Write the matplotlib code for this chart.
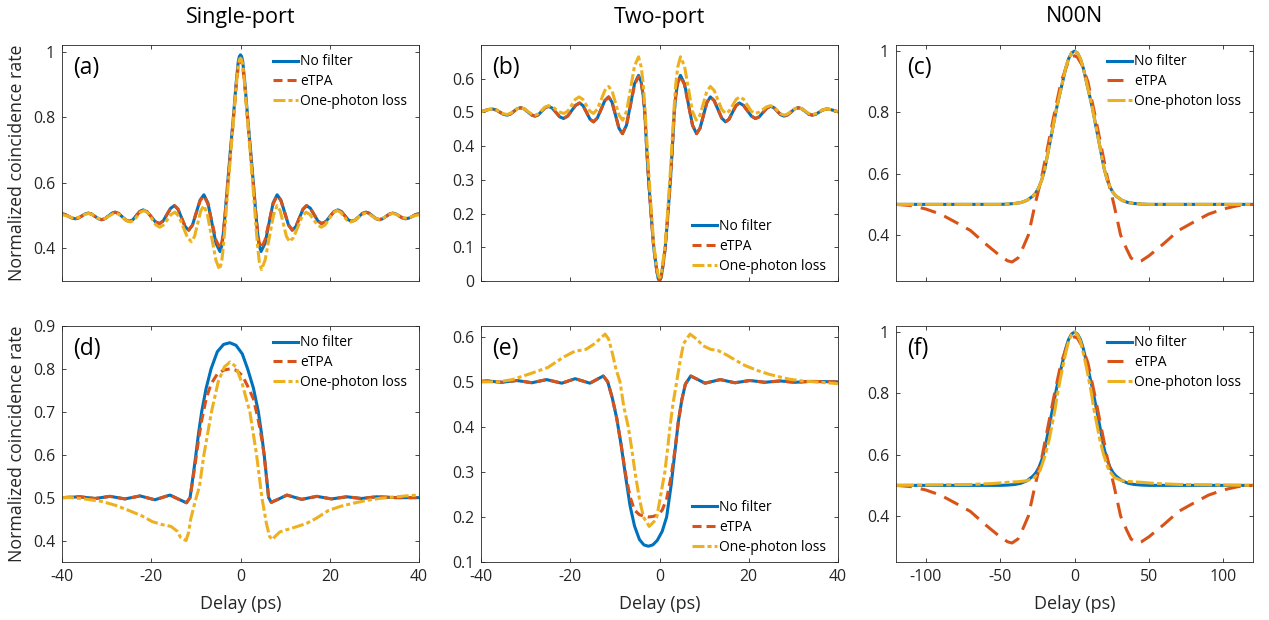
import matplotlib
matplotlib.use("Agg")
import matplotlib.pyplot as plt

plt.rcParams['font.family'] = ['Open Sans', 'DejaVu Sans']
plt.rcParams['lines.scale_dashes'] = False

BLUE = '#0072BD'
RED = '#D95319'
YELLOW = '#EDB120'
INK = '#262626'

labels = ['No filter', 'eTPA', 'One-photon loss']
col_titles = ['Single-port', 'Two-port', 'N00N']

# ---- (a) single-port, 2 ps filter
a_blue_x = [-40, -39.3, -38.55, -37.78, -37.0, -36.28, -35.55, -34.83, -34.1, -33.35, -32.6, -31.85, -31.1, -30.35,
            -29.6, -28.85, -28.1, -27.3, -26.5, -25.7, -24.9, -24.13, -23.35, -22.58, -21.8, -20.9, -20.0, -19.1,
            -18.2, -17.35, -16.5, -15.65, -14.8, -14.0, -13.2, -12.4, -11.6, -10.75, -9.9, -9.05, -8.2, -7.3, -6.4,
            -5.5, -4.6, -4.15, -3.8, -3.47, -2.87, -2.25, -1.6, -1.0, -0.5, -0.25, 0, 0.25, 0.5, 1.0, 1.6, 2.25,
            2.87, 3.47, 3.8, 4.15, 4.6, 5.5, 6.4, 7.3, 8.2, 9.05, 9.9, 10.75, 11.6, 12.4, 13.2, 14.0, 14.8, 15.65,
            16.5, 17.35, 18.2, 19.1, 20.0, 20.9, 21.8, 22.58, 23.35, 24.13, 24.9, 25.7, 26.5, 27.3, 28.1, 28.85,
            29.6, 30.35, 31.1, 31.85, 32.6, 33.35, 34.1, 34.83, 35.55, 36.28, 37.0, 37.78, 38.55, 39.3, 40]
a_blue_y = [.505, .503, .4975, .492, .49, .4925, .4985, .5045, .507, .504, .497, .49, .487, .4904,
            .4985, .5066, .51, .506, .496, .486, .482, .487, .4995, .512, .517, .511, .496, .481,
            .475, .483, .5025, .522, .53, .519, .4925, .466, .455, .471, .509, .547, .563, .538, .4765,
            .415, .39, .41, .452, .5, .6, .7, .8, .9, .97, .985, .99, .985, .97, .9, .8, .7,
            .6, .5, .452, .41, .39, .415, .4765, .538, .563, .547, .509, .471, .455, .466, .4925, .519, .53, .522,
            .5025, .483, .475, .481, .496, .511, .517, .512, .4995, .487, .482, .486, .496, .506, .51, .5066,
            .4985, .4904, .487, .49, .497, .504, .507, .5045, .4985, .4925, .49, .492, .4975, .503, .505]
a_red_x = a_blue_x
a_red_y = [.505, .503, .4975, .492, .49, .4925, .4985, .5045, .507, .504, .497, .49, .487, .4904,
           .4985, .5066, .51, .506, .496, .486, .482, .487, .4995, .512, .517, .511, .496, .481,
           .475, .483, .5025, .522, .53, .519, .4925, .466, .455, .471, .509, .545, .56, .535, .48,
           .425, .40, .42, .455, .5, .595, .69, .79, .89, .955, .97, .975, .97, .955, .89, .79, .69,
           .595, .5, .455, .42, .40, .425, .48, .535, .56, .545, .509, .471, .455, .466, .4925, .519, .53, .522,
           .5025, .483, .475, .481, .496, .511, .517, .512, .4995, .487, .482, .486, .496, .506, .51, .5066,
           .4985, .4904, .487, .49, .497, .504, .507, .5045, .4985, .4925, .49, .492, .4975, .503, .505]
a_yel_x = [-40, -39.3, -38.5, -37.8, -37.0, -36.25, -35.5, -34.75, -34.0, -33.3, -32.55, -31.8, -31.1, -30.3,
           -29.55, -28.8, -28.0, -27.2, -26.35, -25.5, -24.7, -23.9, -23.15, -22.4, -21.6, -20.7, -19.85, -19.0,
           -18.1, -17.25, -16.4, -15.55, -14.7, -13.8, -12.85, -11.9, -11.0, -10.3, -9.6, -8.9, -8.2, -7.4, -6.45,
           -5.5, -4.7, -4.2, -3.85, -3.5, -2.9, -2.25, -1.6, -1.0, -0.5, -0.25, 0, 0.25, 0.5, 1.0, 1.6, 2.25,
           2.9, 3.5, 3.85, 4.2, 4.7, 5.5, 6.45, 7.4, 8.2, 8.9, 9.6, 10.3, 11.0, 11.9, 12.85, 13.8, 14.7, 15.55,
           16.4, 17.25, 18.1, 19.0, 19.85, 20.7, 21.6, 22.4, 23.15, 23.9, 24.7, 25.5, 26.35, 27.2, 28.0, 28.8,
           29.55, 30.3, 31.1, 31.8, 32.55, 33.3, 34.0, 34.75, 35.5, 36.25, 37.0, 37.8, 38.5, 39.3, 40]
a_yel_y = [.502, .5, .497, .493, .492, .494, .499, .504, .506, .503, .497, .4906, .488, .491,
           .4975, .504, .507, .503, .4935, .484, .48, .485, .4975, .51, .515, .5075, .4895, .4715,
           .464, .471, .487, .503, .51, .497, .465, .433, .42, .436, .475, .514, .53, .5015, .4325,
           .363, .335, .36, .405, .46, .57, .68, .79, .89, .96, .975, .98, .975, .96, .89, .79, .68,
           .57, .46, .405, .36, .335, .363, .4325, .5015, .53, .514, .475, .436, .42, .433, .465, .497, .51, .503,
           .487, .471, .464, .4715, .4895, .5075, .515, .51, .4975, .485, .48, .484, .4935, .503, .507, .504,
           .4975, .491, .488, .4906, .497, .503, .506, .504, .499, .494, .492, .493, .497, .5, .502]

# ---- (b) two-port, 2 ps filter
b_blue_x = [-40, -39.0, -38.2, -37.4, -36.6, -35.8, -35.0, -34.2, -33.43, -32.65, -31.88, -31.1, -30.3, -29.5,
            -28.7, -27.9, -27.15, -26.4, -25.65, -24.9, -24.05, -23.2, -22.35, -21.5, -20.6, -19.7, -18.8, -17.9,
            -17.13, -16.35, -15.58, -14.8, -13.95, -13.1, -12.25, -11.4, -10.63, -9.85, -9.08, -8.3, -7.4, -6.5,
            -5.6, -4.7, -4.1, -3.65, -3.3, -2.9, -2.45, -1.9, -1.3, -0.6, -0.3, 0, 0.3, 0.6, 1.3, 1.9, 2.45, 2.9,
            3.3, 3.65, 4.1, 4.7, 5.6, 6.5, 7.4, 8.3, 9.08, 9.85, 10.63, 11.4, 12.25, 13.1, 13.95, 14.8, 15.58,
            16.35, 17.13, 17.9, 18.8, 19.7, 20.6, 21.5, 22.35, 23.2, 24.05, 24.9, 25.65, 26.4, 27.15, 27.9, 28.7,
            29.5, 30.3, 31.1, 31.88, 32.65, 33.43, 34.2, 35.0, 35.8, 36.6, 37.4, 38.2, 39.0, 40]
b_blue_y = [.502, .506, .509, .51, .5074, .501, .4946, .492, .495, .503, .511, .514, .5104, .5015,
            .4927, .489, .493, .5035, .514, .518, .513, .5, .487, .482, .489, .505, .521, .528,
            .52, .5, .48, .472, .483, .509, .535, .546, .53, .4915, .453, .437, .462, .5235,
            .585, .61, .59, .55, .5, .4, .3, .2, .1, .03, .008, 0, .008, .03, .1, .2, .3, .4,
            .5, .55, .59, .61, .585, .5235, .462, .437, .453, .4915, .53, .546, .535, .509, .483, .472, .48,
            .5, .52, .528, .521, .505, .489, .482, .487, .5, .513, .518, .514, .5035, .493, .489, .4927,
            .5015, .5104, .514, .511, .503, .495, .492, .4946, .501, .5074, .51, .509, .506, .502]
b_red_x = b_blue_x
b_red_y = [.502, .506, .509, .51, .5074, .501, .4946, .492, .495, .503, .511, .514, .5104, .5015,
           .4927, .489, .493, .5035, .514, .518, .513, .5, .487, .482, .489, .505, .521, .528,
           .52, .5, .48, .472, .483, .509, .535, .546, .53, .4915, .453, .437, .462, .522,
           .582, .607, .588, .55, .5, .4, .3, .2, .1, .028, .009, .003, .009, .028, .1, .2, .3, .4,
           .5, .55, .588, .607, .582, .522, .462, .437, .453, .4915, .53, .546, .535, .509, .483, .472, .48,
           .5, .52, .528, .521, .505, .489, .482, .487, .5, .513, .518, .514, .5035, .493, .489, .4927,
           .5015, .5104, .514, .511, .503, .495, .492, .4946, .501, .5074, .51, .509, .506, .502]
b_yel_x = [-40, -39.0, -38.2, -37.4, -36.6, -35.8, -35.0, -34.2, -33.43, -32.65, -31.88, -31.1, -30.3, -29.5,
           -28.7, -27.9, -27.15, -26.4, -25.65, -24.9, -24.0, -23.15, -22.28, -21.4, -20.55, -19.7, -18.85, -18.0,
           -17.2, -16.4, -15.6, -14.8, -13.95, -13.1, -12.25, -11.4, -10.6, -9.83, -9.05, -8.25, -7.36, -6.48,
           -5.6, -4.7, -4.1, -3.65, -3.3, -2.9, -2.45, -1.9, -1.3, -0.6, -0.3, 0, 0.3, 0.6, 1.3, 1.9, 2.45, 2.9,
           3.3, 3.65, 4.1, 4.7, 5.6, 6.48, 7.36, 8.25, 9.05, 9.83, 10.6, 11.4, 12.25, 13.1, 13.95, 14.8, 15.6,
           16.4, 17.2, 18.0, 18.85, 19.7, 20.55, 21.4, 22.28, 23.15, 24.0, 24.9, 25.65, 26.4, 27.15, 27.9, 28.7,
           29.5, 30.3, 31.1, 31.88, 32.65, 33.43, 34.2, 35.0, 35.8, 36.6, 37.4, 38.2, 39.0, 40]
b_yel_y = [.502, .506, .509, .51, .5077, .502, .4963, .494, .497, .504, .511, .514, .5108, .503,
           .4952, .492, .496, .506, .516, .52, .5166, .5085, .5004, .497, .504, .5215, .539, .546,
           .539, .5215, .504, .497, .509, .537, .565, .577, .5624, .527, .4916, .477, .504, .571,
           .6375, .665, .635, .585, .52, .43, .33, .22, .11, .04, .017, .01, .017, .04, .11, .22, .33, .43,
           .52, .585, .635, .665, .6375, .571, .504, .477, .4916, .527, .5624, .577, .565, .537, .509, .497, .504,
           .5215, .539, .546, .539, .5215, .504, .497, .5004, .5085, .5166, .52, .516, .506, .496, .492, .4952,
           .503, .5108, .514, .511, .504, .497, .494, .4963, .502, .5077, .51, .509, .506, .502]

# ---- (c) N00N, 2 ps filter
c_blue_x = [-120, -60, -50, -45, -40, -36, -32, -28, -26, -24, -22, -20, -18, -16, -14, -12, -10, -8, -6, -4, -2, 0,
            2, 4, 6, 8, 10, 12, 14, 16, 18, 20, 22, 24, 26, 28, 32, 36, 40, 45, 50, 60, 120]
c_blue_y = [.5, .5, .5, .501, .503, .506, .513, .527, .538, .555, .58, .615, .665, .715, .765, .815, .858, .9, .943,
            .975, .994, 1.0, .994, .975, .943, .9, .858, .815, .765, .715, .665, .615, .58, .555, .538, .527, .513,
            .506, .503, .501, .5, .5, .5]
c_yel_x = c_blue_x
c_yel_y = [.5, .5, .5, .501, .503, .506, .513, .527, .538, .555, .58, .615, .665, .715, .765, .815, .858, .9, .943,
           .975, .994, 1.0, .994, .975, .943, .9, .858, .815, .765, .715, .665, .615, .58, .555, .538, .527, .513,
           .506, .503, .501, .5, .5, .5]
c_red_x = [-120, -110, -100, -90, -80, -70, -60, -50, -45, -42, -38, -35, -31, -26.5, -22, -17.5, -13.4, -9, -5, -2,
           0, 2, 5, 9, 13.4, 17.5, 22, 26.5, 31, 35, 38, 42, 45, 50, 60, 70, 80, 90, 100, 110, 120]
c_red_y = [.5, .496, .485, .468, .442, .415, .372, .332, .316, .312, .325, .355, .4, .5, .59, .7, .8, .9, .955, .98,
           .985, .98, .955, .9, .8, .7, .59, .5, .4, .355, .325, .312, .316, .332, .372, .415, .442, .468, .485, .496,
           .5]

# ---- (d) single-port, 10 ps filter
d_blue_x = [-40, -36, -32.6, -29.2, -25.9, -22.5, -19.2, -15.8, -14.0, -12.1, -11.3, -10.5, -10.0, -9.4, -8.7, -7.7,
            -6.6, -5.2, -3.8, -2.4, -1.0, 0.4, 1.6, 2.9, 4.0, 4.7, 5.3, 5.8, 6.3, 6.9, 8.6, 10.4, 13.7, 17.1, 20.4,
            23.8, 27.1, 30.5, 35, 40]
d_blue_y = [.5, .502, .498, .503, .497, .504, .495, .506, .497, .488, .5, .56, .6, .65, .7, .755,
            .8, .84, .857, .861, .855, .835, .8, .755, .7, .65, .6, .55, .5, .489, .497, .506, .496, .503, .497,
            .502, .498, .502, .5, .5]
d_red_x = d_blue_x
d_red_y = [.5, .502, .498, .503, .497, .504, .495, .506, .497, .488, .5, .555, .59, .635, .68, .73,
           .765, .788, .797, .8, .797, .785, .76, .73, .68, .64, .6, .55, .5, .489, .497, .506, .496, .503, .497,
           .502, .498, .502, .5, .5]
d_yel_x = [-40, -38, -35, -31, -28, -25, -22, -19.75, -17.5, -15.6, -14.2, -13.4, -12.2, -11.6, -11.2, -10.2, -9.2,
           -8.2, -6.5, -5.0, -3.6, -2.35, -1.0, 0.4, 1.3, 2.1, 3.0, 3.6, 4.8, 5.8, 6.5, 7.1, 7.8, 8.8, 10.3, 12.5,
           14.8, 17, 19.7, 22.5, 25.3, 28, 31, 34, 37, 40]
d_yel_y = [.5, .5, .497, .491, .482, .47, .457, .444, .437, .433, .422, .407, .4, .42, .448, .49, .526,
           .6, .7, .77, .805, .816, .805, .765, .73, .7, .64, .6, .5, .44, .41, .402, .41, .42, .425, .432,
           .44, .452, .47, .48, .487, .493, .498, .501, .504, .506]

# ---- (e) two-port, 10 ps filter
e_blue_x = [-40, -38.6, -35.3, -32, -28.6, -25.3, -21.9, -18.9, -15.6, -12.6, -11.6, -10.6, -9.6, -8.6, -7.6, -6.6,
            -5.6, -4.5, -3.5, -2.5, -1.5, -0.5, 0.6, 1.6, 2.6, 3.4, 4.2, 5.0, 5.8, 7.0, 10.2, 13.6, 16.9, 20.3, 23.6,
            27, 30.3, 33.7, 40]
e_blue_y = [.501, .502, .499, .503, .498, .505, .497, .507, .497, .513, .5, .465, .42, .36, .29, .225,
            .18, .15, .138, .135, .138, .148, .168, .2, .27, .34, .41, .46, .495, .513, .497, .505, .498, .503, .499,
            .502, .499, .501, .5]
e_red_x = e_blue_x
e_red_y = [.501, .502, .499, .503, .498, .505, .497, .507, .497, .513, .5, .465, .42, .36, .295, .245,
           .215, .205, .202, .2, .201, .204, .215, .24, .29, .345, .41, .46, .495, .513, .497, .505, .498, .503, .499,
           .502, .499, .501, .5]
e_yel_x = [-40, -36, -33, -29, -25, -21.5, -19, -16.5, -14.5, -12.2, -11.4, -10.6, -9.8, -8.85, -8.0, -7.0, -6.2,
           -5.5, -4.5, -3.6, -2.3, -1.2, -0.6, 0.3, 1.2, 1.8, 2.35, 3.0, 3.85, 4.6, 5.4, 6.85, 8.3, 9.8, 11.5, 13,
           15, 16.7, 19, 22, 24.5, 26.5, 29, 32, 36, 40]
e_yel_y = [.5, .5, .505, .518, .532, .555, .568, .572, .585, .606, .595, .565, .53, .5, .445, .4, .35,
           .3, .24, .2, .179, .19, .2, .25, .3, .35, .4, .45, .5, .545, .585, .606, .595, .58, .572, .57,
           .56, .55, .537, .525, .517, .512, .506, .502, .499, .496]

# ---- (f) N00N, 10 ps filter
f_blue_x = c_blue_x
f_blue_y = [.5, .5, .5, .501, .503, .507, .515, .53, .541, .558, .583, .618, .668, .718, .768, .818, .861, .903, .945,
            .976, .994, 1.0, .994, .976, .945, .903, .861, .818, .768, .718, .668, .618, .583, .558, .541, .53, .515,
            .507, .503, .501, .5, .5, .5]
f_yel_x = [-120, -90, -70, -55, -45, -38, -32, -27, -23, -19.6, -17, -15, -13, -11.4, -8, -6, -4, -2, 0, 2, 4, 6, 8,
           11.4, 13, 15, 17, 19.6, 23, 27, 32, 38, 45, 55, 70, 90, 120]
f_yel_y = [.5, .502, .503, .506, .51, .512, .515, .525, .55, .6, .65, .7, .75, .8, .885, .93, .97, .992, 1.0, .992,
           .97, .93, .885, .8, .75, .7, .65, .6, .55, .525, .515, .512, .51, .506, .503, .502, .5]
f_red_x = c_red_x
f_red_y = [.5, .496, .485, .468, .442, .415, .372, .332, .316, .312, .325, .355, .4, .5, .59, .7, .8, .9, .955, .98,
           .985, .98, .955, .9, .8, .7, .59, .5, .4, .355, .325, .312, .316, .332, .372, .415, .442, .468, .485, .496,
           .5]

panels = [
    ('(a)', (a_blue_x, a_blue_y), (a_red_x, a_red_y), (a_yel_x, a_yel_y)),
    ('(b)', (b_blue_x, b_blue_y), (b_red_x, b_red_y), (b_yel_x, b_yel_y)),
    ('(c)', (c_blue_x, c_blue_y), (c_red_x, c_red_y), (c_yel_x, c_yel_y)),
    ('(d)', (d_blue_x, d_blue_y), (d_red_x, d_red_y), (d_yel_x, d_yel_y)),
    ('(e)', (e_blue_x, e_blue_y), (e_red_x, e_red_y), (e_yel_x, e_yel_y)),
    ('(f)', (f_blue_x, f_blue_y), (f_red_x, f_red_y), (f_yel_x, f_yel_y)),
]

ylims = [(0.3, 1.02), (0, 0.7), (0.25, 1.02), (0.35, 0.9), (0.1, 0.624), (0.25, 1.02)]
yticks = [[0.4, 0.6, 0.8, 1], [0, 0.1, 0.2, 0.3, 0.4, 0.5, 0.6], [0.4, 0.6, 0.8, 1],
          [0.4, 0.5, 0.6, 0.7, 0.8, 0.9], [0.1, 0.2, 0.3, 0.4, 0.5, 0.6], [0.4, 0.6, 0.8, 1]]
ps_ticks = [-40, -20, 0, 20, 40]
noon_ticks = [-100, -50, 0, 50, 100]

W, H = 1269, 620
fig = plt.figure(figsize=(W / 100, H / 100), dpi=100)

lefts = [62, 481, 896]
tops = [45, 326]
aw, ah = 357, 236


def fmt(v):
    return ('%.1f' % v).rstrip('0').rstrip('.')


for i, (tag, blue, red, yel) in enumerate(panels):
    row, col = divmod(i, 3)
    ax = fig.add_axes([lefts[col] / W, 1 - (tops[row] + ah) / H, aw / W, ah / H])
    noon = col == 2
    l1, = ax.plot(blue[0], blue[1], color=BLUE, lw=2.2, solid_joinstyle='round')
    l2, = ax.plot(red[0], red[1], color=RED, lw=2.2)
    l3, = ax.plot(yel[0], yel[1], color=YELLOW, lw=2.2)
    if noon:
        l2.set_dashes([11.5, 6.5])
        l3.set_dashes([13, 2.2, 3.6, 2.2])
    else:
        l2.set_dashes([6.5, 3.6])
        l3.set_dashes([8.6, 2.2, 2.9, 2.2])

    if noon:
        ax.set_xlim(-120, 120)
        ax.set_xticks(noon_ticks)
    else:
        ax.set_xlim(-40, 40)
        ax.set_xticks(ps_ticks)
    ax.set_ylim(*ylims[i])
    ax.set_yticks(yticks[i])
    ax.set_yticklabels([fmt(v) for v in yticks[i]])
    if row == 1:
        ax.set_xticklabels([str(v) for v in ax.get_xticks().astype(int)])
    else:
        ax.set_xticklabels([])

    ax.tick_params(direction='in', top=True, right=True, length=3, width=0.6, colors=INK,
                   labelsize=11.4, pad=5)
    for sp in ax.spines.values():
        sp.set_linewidth(0.6)
        sp.set_color(INK)

    ax.text(0.032, 0.903, tag, transform=ax.transAxes, fontsize=16.5, va='center', ha='left', color='black')

    kw = dict(frameon=False, fontsize=10, handlelength=1.8, handletextpad=0.2, labelspacing=0.35,
              borderpad=0, borderaxespad=0)
    if i in (1, 4):
        ax.legend([l1, l2, l3], labels, loc='lower left', bbox_to_anchor=(0.59, 0.03), **kw)
    else:
        ax.legend([l1, l2, l3], labels, loc='upper left', bbox_to_anchor=(0.59, 0.96), **kw)

for col in range(3):
    cx = (lefts[col] + aw / 2) / W
    fig.text(cx, 1 - 17 / H, col_titles[col], ha='center', va='center', fontsize=15.5, color='black')
    fig.text(cx, 1 - 604 / H, 'Delay (ps)', ha='center', va='center', fontsize=13, color=INK)

for row in range(2):
    cy = 1 - (tops[row] + ah / 2) / H
    fig.text(17 / W, cy, 'Normalized coincidence rate', rotation=90, ha='center', va='center',
             fontsize=12.8, color=INK)

fig.savefig('out.png', dpi=100)
